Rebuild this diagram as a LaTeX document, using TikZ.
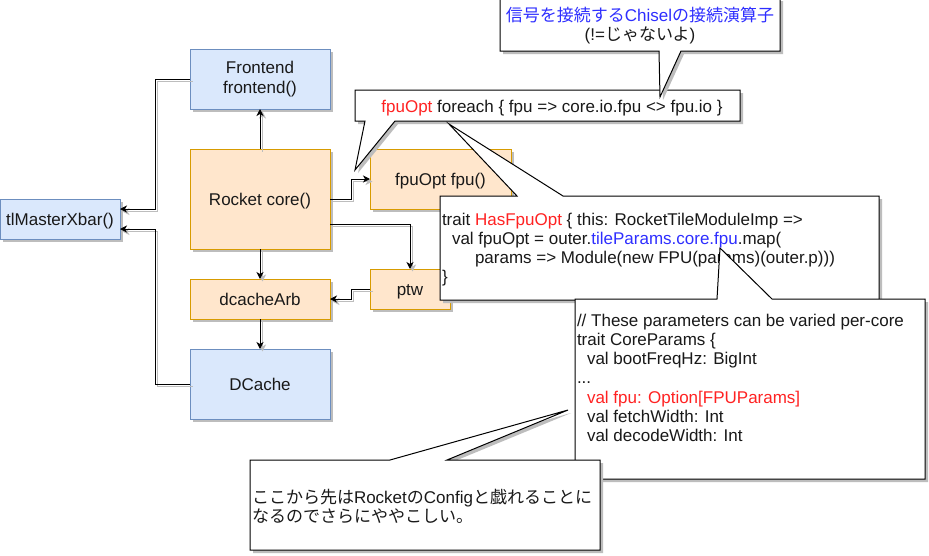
\documentclass[tikz,border=0pt]{standalone}
\usepackage{fontspec}
\setmainfont{Liberation Sans}
\newfontfamily\jpf{Noto Sans CJK JP}
\usetikzlibrary{arrows.meta,calc}
\pgfdeclarelayer{bglayer}
\pgfdeclarelayer{shadowlayer}
\pgfsetlayers{bglayer,shadowlayer,main}
\definecolor{bluefill}{HTML}{DAE8FC}
\definecolor{bluedraw}{HTML}{6C8EBF}
\definecolor{orfill}{HTML}{FFE6CC}
\definecolor{ordraw}{HTML}{D79B00}
\definecolor{txtred}{HTML}{FF2222}
\definecolor{txtblue}{HTML}{2E2EFF}
\definecolor{shadowgray}{HTML}{BDBDBD}
\newcommand\jp[1]{{\jpf #1}}
\newcommand\myedges[1]{%
  \draw[#1] (frontend.west) -- ++(-35,0) |- ([yshift=10pt]xbar.east);
  \draw[#1] (dcache.west) -- ++(-35,0) |- ([yshift=-10pt]xbar.east);
  \draw[#1] (core.north) -- (frontend.south);
  \draw[#1] (core.south) -- (arb.north);
  \draw[#1] (arb.south) -- (dcache.north);
  \draw[#1] (core.east) -- ++(21,0) |- (fpu.west);
  \draw[#1] ([yshift=-25pt]core.east) -| (ptw.north);
  \draw[#1] (ptw.west) -- ++(-19,0) |- (arb.east);
}
\newcommand\boxshadow[1]{%
  \begin{pgfonlayer}{shadowlayer}
    \fill[shadowgray] ($(#1.south west)+(3,3)$) rectangle ($(#1.north east)+(3,3)$);
  \end{pgfonlayer}}
\begin{document}
\begin{tikzpicture}[x=1pt,y=-1pt,
  font=\fontsize{17}{20}\selectfont,
  every node/.style={text=black!90},
  box/.style={draw, line width=1pt, inner sep=0pt, outer sep=0pt},
  oneline/.style={text height=12pt, text depth=0pt},
  bluebox/.style={box, fill=bluefill, draw=bluedraw},
  orbox/.style={box, fill=orfill, draw=ordraw},
  conn/.style={line width=1pt, -{Stealth[length=7pt,width=7pt,inset=2pt]}},
  connshadow/.style={conn, draw=shadowgray},
  callout/.style={draw=black, fill=white, line width=1pt},
  calloutshadow/.style={fill=shadowgray},
  txt/.style={inner sep=0pt, outer sep=0pt},
  code/.style={txt, anchor=base west}]
\useasboundingbox (0,0) rectangle (929,555);
\begin{pgfonlayer}{bglayer}
  \fill[white] (0,0) rectangle (929,555);
\end{pgfonlayer}

% boxes
\node[bluebox, align=center, minimum width=140pt, minimum height=60pt] (frontend) at (260,79) {Frontend\\frontend()};
\node[orbox, oneline, minimum width=140pt, minimum height=100pt] (core) at (260,199) {Rocket core()};
\node[orbox, oneline, minimum width=140pt, minimum height=40pt] (arb) at (260,299) {dcacheArb};
\node[bluebox, oneline, minimum width=140pt, minimum height=70pt] (dcache) at (260,384) {DCache};
\node[bluebox, oneline, minimum width=120pt, minimum height=40pt] (xbar) at (60,219) {tlMasterXbar()};
\node[orbox, oneline, minimum width=141pt, minimum height=60pt] (fpu) at (440.5,179) {fpuOpt fpu()};
\node[orbox, oneline, minimum width=80pt, minimum height=40pt] (ptw) at (410,289) {ptw};
\boxshadow{frontend}
\boxshadow{core}
\boxshadow{arb}
\boxshadow{dcache}
\boxshadow{xbar}
\boxshadow{fpu}
\boxshadow{ptw}

% connectors
\begin{scope}[transform canvas={shift={(2.5pt,-2.5pt)}}]
  \myedges{connshadow}
\end{scope}
\myedges{conn}

% callout: fpuOpt foreach
\fill[calloutshadow, shift={(3,3)}] (355,90) -- (740,90) -- (740,121) -- (395,121) -- (355,170) -- (365,121) -- (355,121) -- cycle;
\path[callout] (355,90) -- (740,90) -- (740,121) -- (395,121) -- (355,170) -- (365,121) -- (355,121) -- cycle;
\node[txt, anchor=base] (c2t) at (552,112) {\textcolor{txtred}{fpuOpt} foreach \{ fpu => core.io.fpu <> fpu.io \}};

% callout: Chisel operator
\fill[calloutshadow, shift={(3,3)}] (500,-2) -- (780,-2) -- (780,51) -- (681,51) -- (660,97) -- (659,51) -- (500,51) -- cycle;
\path[callout] (500,-2) -- (780,-2) -- (780,51) -- (681,51) -- (660,97) -- (659,51) -- (500,51) -- cycle;
\node[txt, anchor=base, text=txtblue] (c1a) at (640,21) {\jp{信号を接続する}Chisel\jp{の接続演算子}};
\node[txt, anchor=base] (c1b) at (640,40) {(!=\jp{じゃないよ})};

% callout: trait HasFpuOpt
\fill[calloutshadow, shift={(3,3)}] (440,196) -- (517,196) -- (449,124) -- (563,196) -- (879,196) -- (879,300) -- (440,300) -- cycle;
\path[callout] (440,196) -- (517,196) -- (449,124) -- (563,196) -- (879,196) -- (879,300) -- (440,300) -- cycle;
\node[code] (t1) at (442,225) {trait \textcolor{txtred}{HasFpuOpt} \{ this: RocketTileModuleImp =>};
\node[code] (t2) at (442,244.3) {\hspace{10pt}val fpuOpt = outer.\textcolor{txtblue}{tileParams.core.fpu}.map(};
\node[code] (t3) at (442,263.6) {\hspace{33pt}params => Module(new FPU(params)(outer.p)))};
\node[code] (t4) at (442,282.9) {\}};

% callout: CoreParams
\fill[calloutshadow, shift={(3,3)}] (575,299) -- (717,299) -- (720,248) -- (772,299) -- (925,299) -- (925,479) -- (575,479) -- cycle;
\path[callout] (575,299) -- (717,299) -- (720,248) -- (772,299) -- (925,299) -- (925,479) -- (575,479) -- cycle;
\node[code] (p1) at (577,326) {// These parameters can be varied per-core};
\node[code] (p2) at (577,345.3) {trait CoreParams \{};
\node[code] (p3) at (577,364.6) {\hspace{10pt}val bootFreqHz: BigInt};
\node[code] (p4) at (577,383.9) {...};
\node[code, text=txtred] (p5) at (577,403.2) {\hspace{10pt}val fpu: Option[FPUParams]};
\node[code] (p6) at (577,422.5) {\hspace{10pt}val fetchWidth: Int};
\node[code] (p7) at (577,441.8) {\hspace{10pt}val decodeWidth: Int};

% callout: bottom note
\fill[calloutshadow, shift={(3,3)}] (250,460) -- (390,460) -- (568,410) -- (447,460) -- (600,460) -- (600,550) -- (250,550) -- cycle;
\path[callout] (250,460) -- (390,460) -- (568,410) -- (447,460) -- (600,460) -- (600,550) -- (250,550) -- cycle;
\node[code] (n1) at (252,503) {\jp{ここから先は}Rocket\jp{の}Config\jp{と戯れることに}};
\node[code] (n2) at (252,522.5) {\jp{なるのでさらにややこしい。}};
\end{tikzpicture}
\end{document}
